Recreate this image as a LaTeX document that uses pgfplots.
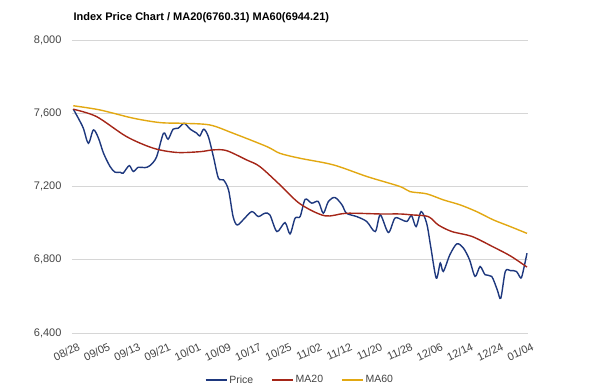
\documentclass[border=0pt]{standalone}
\usepackage{pgfplots}
\pgfplotsset{compat=1.18}
\usepackage{fontspec}
\setmainfont{Liberation Sans}
\definecolor{priceC}{RGB}{30,56,126}
\definecolor{ma20C}{RGB}{165,38,24}
\definecolor{ma60C}{RGB}{226,168,18}
\definecolor{gridC}{RGB}{214,214,214}
\definecolor{labC}{RGB}{68,68,68}
\begin{document}
\begin{tikzpicture}
\begin{axis}[
  at={(0,0)}, anchor=south west,
  scale only axis, width=456pt, height=293pt,
  xmin=-0.25, xmax=90.2, ymin=6400, ymax=8000,
  ytick={6400,6800,7200,7600,8000},
  xtick={0,6,12,18,24,30,36,42,48,54,60,66,72,78,84,90},
  xticklabels={08/28,09/05,09/13,09/21,10/01,10/09,10/17,10/25,11/02,11/12,11/20,11/28,12/06,12/14,12/24,01/04},
  ymajorgrids, grid style={gridC, line width=0.8pt},
  axis line style={draw=none},
  major tick length=0pt,
  tick label style={font=\fontsize{11}{13}\selectfont, text=labC},
  /pgf/number format/.cd, 1000 sep={,}, assume math mode=true,
  /pgfplots/.cd,
  yticklabel style={xshift=-7pt},
  xticklabel style={rotate=25, anchor=north east, xshift=1pt, yshift=-9pt, inner sep=1pt},
  legend columns=3,
  legend style={draw=none, at={(0.5,0)}, anchor=center, yshift=-47pt,
    font=\fontsize{10.5}{12}\selectfont, text=labC,
    /tikz/every even column/.append style={column sep=16pt}},
  legend image code/.code={\draw[#1] (0pt,0pt) -- (21pt,0pt);},
]
\addplot[priceC, line width=1.4pt, smooth, tension=0.5] coordinates {
(0,7623)(1.0,7573)(2.0,7518)(3.0,7436)(4.0,7509)(5.0,7464)(6.0,7382)(7.3,7309)
(8.3,7278)(9.3,7278)(9.9,7273)(11.1,7314)(11.9,7282)(12.9,7305)(14.2,7303)(15.2,7314)
(16.5,7360)(17.9,7491)(18.8,7458)(19.8,7513)(20.8,7518)(22.0,7545)(23.2,7513)(24.5,7491)
(25.1,7476)(25.9,7513)(26.8,7472)(27.8,7363)(28.8,7245)(29.8,7236)(30.8,7181)(31.7,7036)
(32.5,6990)(33.7,7018)(35.4,7063)(36.7,7036)(38.0,7054)(39.0,7045)(40.4,6954)(42.0,7003)
(43.0,6941)(44.0,7027)(45.0,7036)(46.0,7130)(47.3,7109)(48.6,7118)(49.6,7054)(50.6,7118)
(51.9,7140)(53.3,7100)(54.2,7054)(56.2,7036)(58.2,7009)(59.9,6954)(60.9,7045)(62.5,6949)
(63.8,7027)(65.2,7018)(66.2,7009)(67.1,7041)(68.0,6981)(69.0,7063)(70.1,6999)(70.9,6872)
(72.0,6700)(72.8,6782)(73.4,6736)(74.7,6827)(76.1,6887)(77.4,6863)(78.6,6800)(79.7,6709)
(80.7,6763)(81.7,6718)(83.0,6709)(84.1,6636)(84.8,6590)(85.7,6736)(86.7,6741)(87.9,6736)
(88.8,6700)(89.3,6745)(90.0,6836)
};
\addlegendentry{Price}
\addplot[ma20C, line width=1.4pt, smooth] coordinates {
(0,7622)(4.6,7582)(10.6,7472)(15.9,7409)(20.5,7386)(25.1,7390)(27.8,7400)(30.4,7396)
(34.4,7345)(37.0,7309)(41.0,7209)(45.0,7105)(49.9,7040)(54.2,7054)(60.9,7050)(64.8,7050)
(67.1,7045)(70.4,7036)(72.4,6990)(75.1,6954)(79.1,6927)(83.3,6870)(86.7,6821)(90.0,6760)
};
\addlegendentry{MA20}
\addplot[ma60C, line width=1.4pt, smooth] coordinates {
(0,7641)(5.3,7618)(11.9,7573)(17.2,7549)(21.8,7545)(27.1,7536)(31.7,7491)(38.4,7418)
(41.0,7381)(45.0,7354)(51.6,7318)(58.3,7254)(64.8,7200)(66.8,7172)(70.1,7160)(73.4,7127)
(76.7,7100)(80.0,7063)(83.3,7018)(86.7,6981)(90.0,6944)
};
\addlegendentry{MA60}
\end{axis}
\node[anchor=west, font=\fontsize{11}{13}\selectfont\bfseries] at (-2pt,315pt) {Index Price Chart / MA20(6760.31) MA60(6944.21)};
\pgfresetboundingbox
\useasboundingbox (-72pt,-58pt) rectangle (528pt,333pt);
\end{tikzpicture}
\end{document}
